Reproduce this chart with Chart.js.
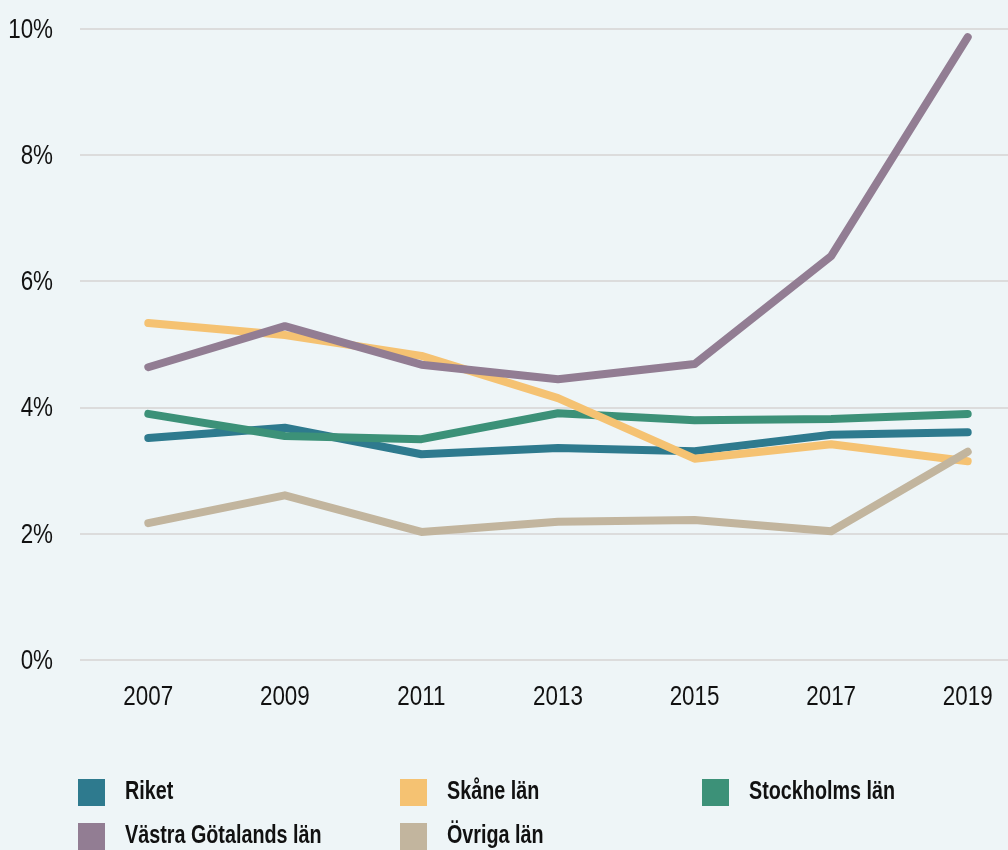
<!DOCTYPE html>
<html><head><meta charset="utf-8">
<script src="https://cdn.jsdelivr.net/npm/chart.js@4"></script>
<style>
html,body{margin:0;padding:0;background:#EEF5F7;overflow:hidden}
#wrap{width:1008px;height:850px;overflow:hidden;position:relative}
#box{width:1040px;height:850px;position:absolute;left:0;top:0}
</style></head><body>
<div id="wrap"><div id="box"><canvas id="c"></canvas></div></div>
<script>
const years = ['2007','2009','2011','2013','2015','2017','2019'];
const seriesNames = ['Riket','Skåne län','Stockholms län','Västra Götalands län','Övriga län'];
const riket = [3.52,3.68,3.26,3.36,3.31,3.57,3.61];
const skane = [5.34,5.15,4.82,4.15,3.19,3.42,3.15];
const stockholm = [3.90,3.55,3.50,3.91,3.80,3.82,3.90];
const vastra = [4.64,5.29,4.68,4.45,4.69,6.40,9.87];
const ovriga = [2.17,2.61,2.03,2.19,2.22,2.04,3.30];
const colors = ['#2E7A8E','#F5C272','#3C9178','#927D93','#C2B59E'];
const drawOrder = [4,2,3,1,0]; // lower = on top
const yTicks = [0,2,4,6,8,10];

const FONT = '"Liberation Sans",Arial,sans-serif';
const values = [riket,skane,stockholm,vastra,ovriga];

function narrowText(ctx, text, x, y, scale, align){
  ctx.save();
  ctx.translate(x, y);
  ctx.scale(scale, 1);
  ctx.textAlign = align;
  ctx.fillText(text, 0, 0);
  ctx.restore();
}

const labelPlugin = {
  id:'narrowLabels',
  afterDraw(chart){
    const ctx = chart.ctx;
    ctx.save();
    ctx.fillStyle = '#111';
    ctx.textBaseline = 'middle';
    ctx.font = '28px ' + FONT;
    const ys = chart.scales.y;
    ys.ticks.forEach((t,i)=>{
      narrowText(ctx, t.value + '%', 53, ys.getPixelForTick(i)+1, 0.8, 'right');
    });
    const xs = chart.scales.x;
    xs.ticks.forEach((t,i)=>{
      narrowText(ctx, xs.getLabelForValue(t.value), xs.getPixelForTick(i), 697, 0.8, 'center');
    });
    // legend
    const colX = [78,400,702];
    chart.data.datasets.forEach((ds,i)=>{
      const col = i%3, row = Math.floor(i/3);
      const x = colX[col], y = 779 + row*44;
      ctx.fillStyle = ds.borderColor;
      ctx.fillRect(x,y,27,27);
      ctx.fillStyle = '#111';
      ctx.font = 'bold 26px ' + FONT;
      narrowText(ctx, ds.label, x+47, y+13, 0.76, 'left');
    });
    ctx.restore();
  }
};

new Chart(document.getElementById('c'),{
  type:'line',
  data:{labels:years,datasets:values.map((v,i)=>({
    label:seriesNames[i],data:v,borderColor:colors[i],backgroundColor:colors[i],
    borderWidth:8,pointRadius:0,borderCapStyle:'round',borderJoinStyle:'round',
    tension:0,fill:false,order:drawOrder[i]
  }))},
  options:{
    responsive:true,maintainAspectRatio:false,animation:false,
    layout:{padding:{top:29,right:4,bottom:130,left:0}},
    plugins:{legend:{display:false},tooltip:{enabled:false}},
    scales:{
      x:{offset:true,grid:{display:false},border:{display:false},
        ticks:{display:false},
        afterFit(s){s.height=60;}},
      y:{min:0,max:10,border:{display:false},
        grid:{color:'#DCDCDC',lineWidth:2,drawTicks:false},
        afterBuildTicks(s){s.ticks=yTicks.map(v=>({value:v}));},
        ticks:{display:false},
        afterFit(s){s.width=80;}}
    }
  },
  plugins:[labelPlugin]
});
</script></body></html>
